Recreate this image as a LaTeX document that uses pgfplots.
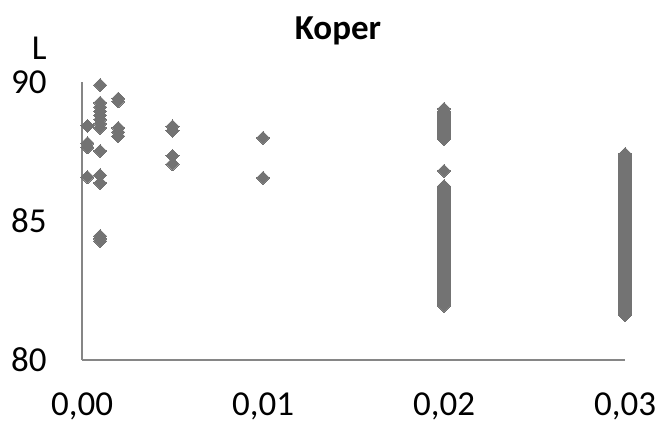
\documentclass[border=0pt]{standalone}
\usepackage{fontspec}
\setmainfont{Carlito}
\usepackage{pgfplots}
\usepackage{pgfplotstable}
\pgfplotsset{compat=1.18}
\usetikzlibrary{calc}
\definecolor{pt}{RGB}{115,115,115}
\definecolor{axc}{RGB}{134,134,134}
\pgfplotstableread{
x y
0.0003 88.42
0.0003 87.80
0.0003 87.65
0.0003 86.58
0.001 89.89
0.001 89.25
0.001 89.10
0.001 88.95
0.001 88.80
0.001 88.65
0.001 88.50
0.001 88.35
0.001 87.52
0.001 86.65
0.001 86.37
0.001 84.46
0.001 84.36
0.001 84.28
0.002 89.40
0.002 89.30
0.002 88.35
0.002 88.20
0.002 88.05
0.005 88.40
0.005 88.25
0.005 87.34
0.005 87.05
0.01 87.99
0.01 86.55
0.02 86.80
}\scattered
\begin{document}
\begin{tikzpicture}[font=\fontsize{17.5pt}{21pt}\selectfont,
  dia/.style={only marks, mark=square*, mark size=2.3pt, mark options={rotate=45, fill=pt, draw=pt, line width=0pt, solid}}]
\begin{axis}[name=ax, scale only axis, width=271.5pt, height=139pt,
  xmin=0, xmax=0.03, ymin=80, ymax=90,
  axis lines*=left, axis line style={axc, line width=0.75pt, -},
  xtick={0,0.01,0.02,0.03}, ytick={80,85,90},
  major tick length=0pt,
  scaled x ticks=false,
  /pgf/number format/assume math mode=true,
  xticklabel style={/pgf/number format/.cd, fixed, fixed zerofill, precision=2, use comma, /tikz/.cd, inner sep=0pt, anchor=north, yshift=-16pt},
  yticklabel style={inner sep=0pt, anchor=east, xshift=-17.5pt},
  clip=false,
]
\addplot[dia] table[x=x,y=y] {\scattered};
% x = 0.02, upper group
\addplot[dia] coordinates {
(0.02,87.95) (0.02,88.00) (0.02,88.05) (0.02,88.10) (0.02,88.15) (0.02,88.20) (0.02,88.25) (0.02,88.30)
(0.02,88.35) (0.02,88.40) (0.02,88.45) (0.02,88.50) (0.02,88.55) (0.02,88.60) (0.02,88.65) (0.02,88.70)
(0.02,88.75) (0.02,88.80) (0.02,88.85) (0.02,88.90) (0.02,88.95) (0.02,89.03)
};
% x = 0.02, lower group
\addplot[dia] coordinates {
(0.02,81.95) (0.02,82.00) (0.02,82.05) (0.02,82.10) (0.02,82.15) (0.02,82.20) (0.02,82.25) (0.02,82.30)
(0.02,82.35) (0.02,82.40) (0.02,82.45) (0.02,82.50) (0.02,82.55) (0.02,82.60) (0.02,82.65) (0.02,82.70)
(0.02,82.75) (0.02,82.80) (0.02,82.85) (0.02,82.90) (0.02,82.95) (0.02,83.00) (0.02,83.05) (0.02,83.10)
(0.02,83.15) (0.02,83.20) (0.02,83.25) (0.02,83.30) (0.02,83.35) (0.02,83.40) (0.02,83.45) (0.02,83.50)
(0.02,83.55) (0.02,83.60) (0.02,83.65) (0.02,83.70) (0.02,83.75) (0.02,83.80) (0.02,83.85) (0.02,83.90)
(0.02,83.95) (0.02,84.00) (0.02,84.05) (0.02,84.10) (0.02,84.15) (0.02,84.20) (0.02,84.25) (0.02,84.30)
(0.02,84.35) (0.02,84.40) (0.02,84.45) (0.02,84.50) (0.02,84.55) (0.02,84.60) (0.02,84.65) (0.02,84.70)
(0.02,84.75) (0.02,84.80) (0.02,84.85) (0.02,84.90) (0.02,84.95) (0.02,85.00) (0.02,85.05) (0.02,85.10)
(0.02,85.15) (0.02,85.20) (0.02,85.25) (0.02,85.30) (0.02,85.35) (0.02,85.40) (0.02,85.45) (0.02,85.50)
(0.02,85.55) (0.02,85.60) (0.02,85.65) (0.02,85.70) (0.02,85.75) (0.02,85.80) (0.02,85.85) (0.02,85.90)
(0.02,85.95) (0.02,86.00) (0.02,86.05) (0.02,86.10) (0.02,86.15) (0.02,86.20) (0.02,86.25)
};
% x = 0.03
\addplot[dia] coordinates {
(0.03,81.62) (0.03,81.65) (0.03,81.70) (0.03,81.75) (0.03,81.80) (0.03,81.85) (0.03,81.90) (0.03,81.95)
(0.03,82.00) (0.03,82.05) (0.03,82.10) (0.03,82.15) (0.03,82.20) (0.03,82.25) (0.03,82.30) (0.03,82.35)
(0.03,82.40) (0.03,82.45) (0.03,82.50) (0.03,82.55) (0.03,82.60) (0.03,82.65) (0.03,82.70) (0.03,82.75)
(0.03,82.80) (0.03,82.85) (0.03,82.90) (0.03,82.95) (0.03,83.00) (0.03,83.05) (0.03,83.10) (0.03,83.15)
(0.03,83.20) (0.03,83.25) (0.03,83.30) (0.03,83.35) (0.03,83.40) (0.03,83.45) (0.03,83.50) (0.03,83.55)
(0.03,83.60) (0.03,83.65) (0.03,83.70) (0.03,83.75) (0.03,83.80) (0.03,83.85) (0.03,83.90) (0.03,83.95)
(0.03,84.00) (0.03,84.05) (0.03,84.10) (0.03,84.15) (0.03,84.20) (0.03,84.25) (0.03,84.30) (0.03,84.35)
(0.03,84.40) (0.03,84.45) (0.03,84.50) (0.03,84.55) (0.03,84.60) (0.03,84.65) (0.03,84.70) (0.03,84.75)
(0.03,84.80) (0.03,84.85) (0.03,84.90) (0.03,84.95) (0.03,85.00) (0.03,85.05) (0.03,85.10) (0.03,85.15)
(0.03,85.20) (0.03,85.25) (0.03,85.30) (0.03,85.35) (0.03,85.40) (0.03,85.45) (0.03,85.50) (0.03,85.55)
(0.03,85.60) (0.03,85.65) (0.03,85.70) (0.03,85.75) (0.03,85.80) (0.03,85.85) (0.03,85.90) (0.03,85.95)
(0.03,86.00) (0.03,86.05) (0.03,86.10) (0.03,86.15) (0.03,86.20) (0.03,86.25) (0.03,86.30) (0.03,86.35)
(0.03,86.40) (0.03,86.45) (0.03,86.50) (0.03,86.55) (0.03,86.60) (0.03,86.65) (0.03,86.70) (0.03,86.75)
(0.03,86.80) (0.03,86.85) (0.03,86.90) (0.03,86.95) (0.03,87.00) (0.03,87.05) (0.03,87.10) (0.03,87.15)
(0.03,87.20) (0.03,87.25) (0.03,87.30) (0.03,87.35) (0.03,87.41)
};
\end{axis}
\node[font=\fontsize{17.5pt}{21pt}\selectfont\bfseries, anchor=base, inner sep=0pt] at ($(ax.north)+(-7.75pt,21pt)$) {Koper};
\node[anchor=base east, inner sep=0pt] at ($(ax.north west)+(-17.5pt,11pt)$) {L};
\pgfresetboundingbox
\path ($(ax.south west)+(-41pt,-33.5pt)$) rectangle ($(ax.north east)+(19pt,41pt)$);
\end{tikzpicture}
\end{document}
